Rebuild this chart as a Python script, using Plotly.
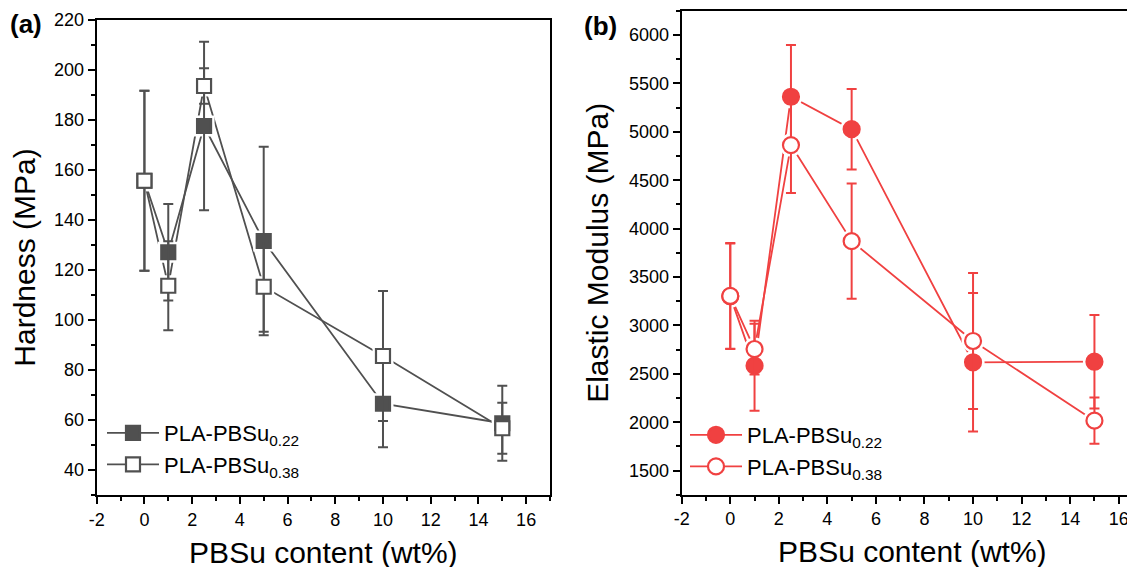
import plotly.graph_objects as go

# ---------------- data ----------------
pbsu_content = [0, 1, 2.5, 5, 10, 15]

hard_022 = [155.7, 127.1, 177.6, 131.6, 66.5, 58.7]
hard_022_err = [36, 19.3, 33.7, 37.7, 17.4, 15]
hard_038 = [155.7, 113.7, 193.6, 113.3, 85.6, 56.7]
hard_038_err = [36, 17.8, 7.1, 18, 26, 10.2]

mod_022 = [3300, 2584, 5362, 5027, 2619, 2625]
mod_022_err = [545, 465, 534, 416, 715, 483]
mod_038 = [3304, 2756, 4863, 3870, 2839, 2016]
mod_038_err = [546, 262, 496, 595, 703, 238]

series_names = ["PLA-PBSu<sub>0.22</sub>", "PLA-PBSu<sub>0.38</sub>"]
x_ticks = [-2, 0, 2, 4, 6, 8, 10, 12, 14, 16]
x_ticktext = ["-2", "0", "2", "4", "6", "8", "10", "12", "14", "16"]

GRAY = "#505050"
RED = "#f04141"
FONT = "Liberation Sans, Arial, sans-serif"
W, H = 1135, 567
OFF = 8  # page body margin offset of the plot div


def fx(p):
    return (p - OFF) / W


def fy(p):
    return 1 - (p - OFF) / H


fig = go.Figure()


def add_panel(xref, yref, ys, errs, color, symbol, msize, legend_name):
    # connecting lines
    for y in ys:
        fig.add_trace(go.Scatter(x=pbsu_content, y=y, mode="lines",
                                 line=dict(color=color, width=1.8),
                                 xaxis=xref, yaxis=yref, showlegend=False, hoverinfo="skip"))
    # white halos to create gaps around markers
    for y in ys:
        fig.add_trace(go.Scatter(x=pbsu_content, y=y, mode="markers",
                                 marker=dict(symbol=symbol, size=msize + 7, color="white",
                                             line=dict(width=0)),
                                 xaxis=xref, yaxis=yref, showlegend=False, hoverinfo="skip"))
    # markers with error bars
    for i, (y, e) in enumerate(zip(ys, errs)):
        fill = color if i == 0 else "white"
        fig.add_trace(go.Scatter(x=pbsu_content, y=y, mode="markers",
                                 marker=dict(symbol=symbol, size=msize, color=fill,
                                             line=dict(color=color, width=2.2)),
                                 error_y=dict(type="data", array=e, visible=True, color=color,
                                              thickness=2, width=5),
                                 xaxis=xref, yaxis=yref, showlegend=False))
    # legend entries
    for i, name in enumerate(series_names):
        fill = color if i == 0 else "white"
        fig.add_trace(go.Scatter(x=[None], y=[None], mode="lines+markers", name=name,
                                 line=dict(color=color, width=1.8),
                                 marker=dict(symbol=symbol, size=msize, color=fill,
                                             line=dict(color=color, width=2.2)),
                                 xaxis=xref, yaxis=yref, legend=legend_name, showlegend=True))


add_panel("x", "y", [hard_022, hard_038], [hard_022_err, hard_038_err], GRAY, "square", 14, "legend")
add_panel("x2", "y2", [mod_022, mod_038], [mod_022_err, mod_038_err], RED, "circle", 16, "legend2")

axis_common = dict(showline=True, linecolor="black", linewidth=2, ticks="outside",
                   ticklen=7, tickwidth=2, tickcolor="black", showgrid=False, zeroline=False,
                   automargin=False,
                   tickfont=dict(family=FONT, size=18, color="black"))

title_font = dict(family=FONT, size=30, color="black")
minor_x = dict(ticks="outside", ticklen=4, tickwidth=2, tickcolor="black", dtick=1, tick0=-2)

fig.update_layout(
    width=W, height=H,
    margin=dict(l=0, r=0, t=0, b=0, autoexpand=False),
    paper_bgcolor="white", plot_bgcolor="white",
    font=dict(family=FONT, color="black"),
    xaxis=dict(domain=[fx(96.7), fx(550)], range=[-2, 17], tickvals=x_ticks, ticktext=x_ticktext,
               minor=minor_x, mirror=True, anchor="y",
               title=dict(text="PBSu content (wt%)", font=title_font, standoff=13),
               **axis_common),
    yaxis=dict(domain=[fy(495), fy(20)], range=[30, 220], dtick=20, tick0=0,
               minor=dict(ticks="outside", ticklen=4, tickwidth=2, tickcolor="black", dtick=10, tick0=0),
               mirror=True, anchor="x",
               title=dict(text="Hardness (MPa)", font=title_font, standoff=12),
               **axis_common),
    xaxis2=dict(domain=[fx(681.7), 1], range=[-2, 17], tickvals=x_ticks, ticktext=x_ticktext,
                minor=minor_x, mirror=True, anchor="y2",
                title=dict(text="PBSu content (wt%)", font=title_font, standoff=13),
                **axis_common),
    yaxis2=dict(domain=[fy(494.8), fy(10.8)], range=[1250, 6250], dtick=500, tick0=0,
                minor=dict(ticks="outside", ticklen=4, tickwidth=2, tickcolor="black", dtick=250, tick0=0),
                mirror=True, anchor="x2",
                title=dict(text="Elastic Modulus (MPa)", font=title_font, standoff=12),
                **axis_common),
    legend=dict(x=fx(102), y=fy(412), xanchor="left", yanchor="top",
                bgcolor="rgba(0,0,0,0)", font=dict(family=FONT, size=22, color="black"),
                itemwidth=52, tracegroupgap=0),
    legend2=dict(x=fx(685), y=fy(414), xanchor="left", yanchor="top",
                 bgcolor="rgba(0,0,0,0)", font=dict(family=FONT, size=22, color="black"),
                 itemwidth=52, tracegroupgap=0),
    annotations=[
        dict(text="<b>(a)</b>", x=fx(26), y=fy(24), xref="paper", yref="paper",
             xanchor="center", yanchor="middle",
             showarrow=False, font=dict(family=FONT, size=26, color="black")),
        dict(text="<b>(b)</b>", x=fx(600), y=fy(26), xref="paper", yref="paper",
             xanchor="center", yanchor="middle",
             showarrow=False, font=dict(family=FONT, size=26, color="black")),
    ],
    showlegend=True,
)

fig.write_html("out.html")
